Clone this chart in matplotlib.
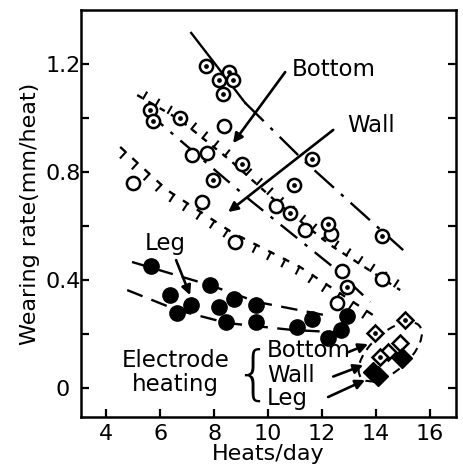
import matplotlib
matplotlib.use("Agg")
import matplotlib.pyplot as plt
import matplotlib.patheffects as pe
from matplotlib.patches import Ellipse
from matplotlib.transforms import ScaledTranslation

plt.rcParams['font.family'] = 'DejaVu Sans'
plt.rcParams['font.size'] = 16

# open circles with a centre dot
dot_x = [7.69, 8.19, 8.56, 8.68, 8.32, 9.02, 11.62, 10.94, 12.21, 14.21,
         5.63, 5.74, 6.74, 7.96, 10.81, 12.91]
dot_y = [1.194, 1.142, 1.169, 1.142, 1.09, 0.83, 0.848, 0.753, 0.609, 0.562,
         1.030, 0.989, 1.0, 0.770, 0.648, 0.374]
# plain open circles
open_x = [8.35, 12.33, 7.19, 7.74, 10.28, 11.37, 12.73, 12.54, 14.21, 5.0, 7.56, 8.78]
open_y = [0.969, 0.570, 0.863, 0.870, 0.673, 0.584, 0.432, 0.317, 0.404, 0.759, 0.689, 0.541]
# leg (filled circles)
leg_x = [5.65, 6.37, 6.62, 7.14, 7.85, 8.19, 8.44, 8.72, 9.56, 9.56, 11.06, 11.64, 12.22, 12.70, 12.93]
leg_y = [0.451, 0.344, 0.278, 0.306, 0.383, 0.302, 0.243, 0.330, 0.309, 0.243, 0.225, 0.256, 0.185, 0.215, 0.267]
# electrode heating
eb_x = [13.96, 15.07, 14.15]
eb_y = [0.204, 0.252, 0.115]
ew_x = [14.44, 14.89]
ew_y = [0.133, 0.167]
el_x = [13.89, 14.05, 14.96]
el_y = [0.059, 0.045, 0.111]

# trend lines
bot_solid_x = [7.15, 9.15]
bot_solid_y = [1.315, 1.056]
bot_dash_x = [9.15, 11.30, 15.0]
bot_dash_y = [1.056, 0.844, 0.511]
wall_up_x = [5.15, 6.74, 8.59, 10.44, 12.30, 14.89]
wall_up_y = [1.085, 0.993, 0.844, 0.678, 0.530, 0.363]
wall_mid_x = [5.52, 9.33, 12.41, 13.78]
wall_mid_y = [1.022, 0.696, 0.448, 0.319]
wall_low_x = [4.52, 6.26, 8.70, 11.19, 13.89]
wall_low_y = [0.893, 0.733, 0.574, 0.448, 0.270]
leg_up_x = [4.96, 7.85, 9.59, 12.11]
leg_up_y = [0.467, 0.381, 0.319, 0.270]
leg_low_x = [4.78, 6.63, 8.48, 10.93, 13.15]
leg_low_y = [0.363, 0.289, 0.241, 0.215, 0.204]

fig = plt.figure(figsize=(4.64, 4.67), dpi=100)
ax = fig.add_axes([0.1746, 0.107, 0.8084, 0.8716])
ax.set_xlim(3.07, 16.96)
ax.set_ylim(-0.107, 1.40)

lw = 1.7
ax.plot(bot_solid_x, bot_solid_y, color='k', lw=lw)
ax.plot(bot_dash_x, bot_dash_y, color='k', lw=lw, ls=(0, (11, 4, 1.5, 4)))

# ticked lines: dotted base line plus a separate tick stroke
ax.plot(wall_up_x, wall_up_y, color='k', lw=lw, ls=(0, (2.5, 3)))
ax.plot(wall_up_x, wall_up_y, color='k', lw=1.5,
        path_effects=[pe.TickedStroke(spacing=10, angle=90, length=0.5)])
ax.plot(wall_mid_x, wall_mid_y, color='k', lw=lw, ls=(0, (9, 4, 1.5, 4)))
ax.plot(wall_low_x, wall_low_y, color='k', lw=lw, ls=(0, (3, 4)))
ax.plot(wall_low_x, wall_low_y, color='k', lw=1.5,
        path_effects=[pe.TickedStroke(spacing=11, angle=-90, length=0.5)])

ax.plot(leg_up_x, leg_up_y, color='k', lw=lw, ls=(0, (7, 4)))
ax.plot(leg_low_x, leg_low_y, color='k', lw=lw, ls=(0, (7, 4)))

ax.plot(open_x, open_y, 'o', ms=9.5, mfc='white', mec='k', mew=1.8)
ax.plot(dot_x, dot_y, 'o', ms=9.5, mfc='white', mec='k', mew=1.8)
ax.plot(dot_x, dot_y, 'o', ms=2.4, color='k')
ax.plot(leg_x, leg_y, 'o', ms=11, color='k')
ax.plot(ew_x, ew_y, 'D', ms=8.5, mfc='white', mec='k', mew=1.8)
ax.plot(eb_x, eb_y, 'D', ms=8.5, mfc='white', mec='k', mew=1.8)
ax.plot(eb_x, eb_y, 'o', ms=2.4, color='k')
ax.plot(el_x, el_y, 'D', ms=10, color='k')

# dashed ring round the electrode heating points
tr = fig.dpi_scale_trans + ScaledTranslation(14.52, 0.135, ax.transData)
ax.add_patch(Ellipse((0, 0), 0.78, 0.38, angle=42, transform=tr,
                     fill=False, ec='k', lw=1.5, ls=(0, (4, 3))))

arr = dict(arrowstyle='-|>', color='k', lw=1.9, mutation_scale=14, shrinkA=0, shrinkB=0)
ax.text(10.89, 1.181, 'Bottom', ha='left', va='center', fontsize=16.5)
ax.annotate('', xy=(8.70, 0.907), xytext=(10.63, 1.17), arrowprops=arr)
ax.text(12.93, 0.974, 'Wall', ha='left', va='center', fontsize=16.5)
ax.annotate('', xy=(8.52, 0.652), xytext=(12.41, 0.956), arrowprops=arr)
ax.text(5.44, 0.537, 'Leg', ha='left', va='center', fontsize=16.5)
ax.annotate('', xy=(7.11, 0.344), xytext=(6.59, 0.474), arrowprops=arr)

ax.text(6.56, 0.057, 'Electrode\nheating', ha='center', va='center', linespacing=1.05,
        fontsize=16.5)
ax.text(9.44, 0.045, '{', ha='center', va='center', fontsize=42, fontweight='light')
ax.text(9.96, 0.141, 'Bottom', ha='left', va='center', fontsize=16.5)
ax.text(9.96, 0.045, 'Wall', ha='left', va='center', fontsize=16.5)
ax.text(9.96, -0.037, 'Leg', ha='left', va='center', fontsize=16.5)
ax.annotate('', xy=(13.70, 0.163), xytext=(12.96, 0.133), arrowprops=arr)
ax.annotate('', xy=(13.52, 0.085), xytext=(12.41, 0.043), arrowprops=arr)
ax.annotate('', xy=(13.59, 0.030), xytext=(12.22, -0.033), arrowprops=arr)

ax.set_xticks([4, 6, 8, 10, 12, 14, 16])
ax.set_yticks([0, 0.2, 0.4, 0.6, 0.8, 1.0, 1.2])
ax.set_yticklabels(['0', '', '0.4', '', '0.8', '', '1.2'])
for lab in ax.get_yticklabels():
    lab.set_horizontalalignment('center')
ax.tick_params(axis='y', direction='in', length=6, width=1.6, right=True, pad=13)
ax.tick_params(axis='x', direction='in', length=6, width=1.6, pad=5)
for s in ax.spines.values():
    s.set_linewidth(1.8)

ax.set_xlabel('Heats/day', labelpad=0)
ax.set_ylabel('Wearing rate(mm/heat)', labelpad=4)

fig.savefig('out.png', dpi=100)
